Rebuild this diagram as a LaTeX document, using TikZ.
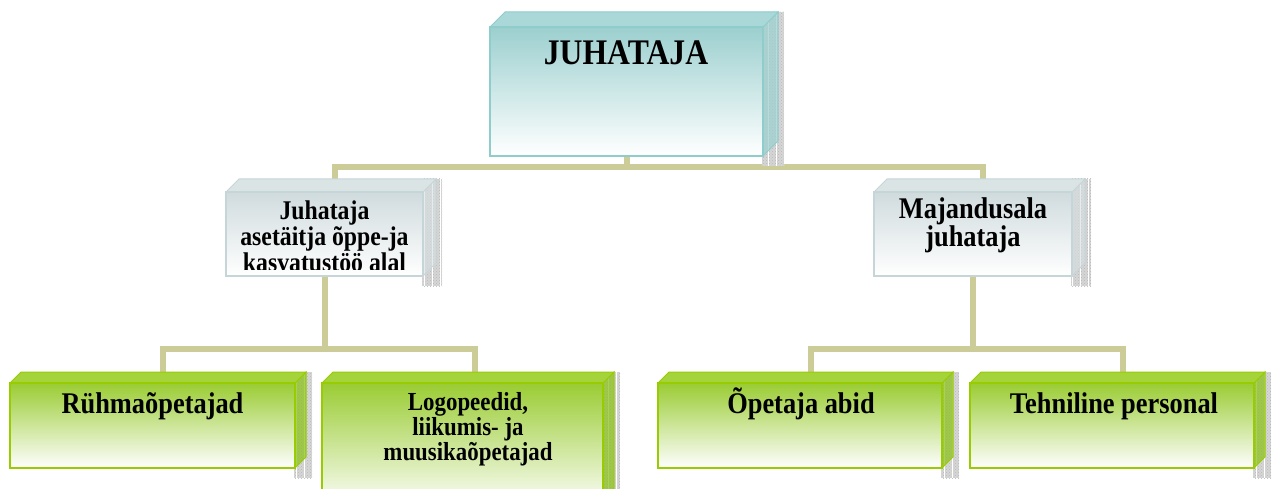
\documentclass[tikz,border=0pt]{standalone}
\usepackage{fontspec}
\setmainfont{Liberation Serif}[FakeStretch=0.88]
\usetikzlibrary{patterns,calc}
\pgfdeclarelayer{bglayer}
\pgfsetlayers{bglayer,main}
\definecolor{connc}{HTML}{CCCC99}
\definecolor{tealT}{HTML}{9CCFCF}
\definecolor{tealB}{HTML}{8FCCCC}
\definecolor{tealS}{HTML}{9FD0D0}
\definecolor{tealF}{HTML}{AAD8D8}
\definecolor{grayT}{HTML}{D0DBDE}
\definecolor{grayB}{HTML}{C6D5D8}
\definecolor{grayS}{HTML}{D6DFE1}
\definecolor{grayF}{HTML}{DBE4E5}
\definecolor{grnT}{HTML}{9ACC33}
\definecolor{grnB}{HTML}{99CC00}
\definecolor{grnS}{HTML}{8CC21E}
\definecolor{grnF}{HTML}{A4D33C}
\tikzset{
  conn/.style={draw=connc,line width=6pt},
  hatchbase/.style={fill=black!16},
  hatchgrid/.style={draw=white,line width=0.8pt},
  tl front/.style={draw=tealB,line width=1.5pt,top color=tealT,middle color=tealT!35!white,bottom color=white,inner sep=0pt,outer sep=0pt},
  tl top/.style={fill=tealF,draw=tealB,line width=1pt},
  tl side/.style={fill=tealS,fill opacity=0.75,draw=tealB,line width=1pt},
  gy front/.style={draw=grayB,line width=1.5pt,top color=grayT,middle color=grayT!40!white,bottom color=white,inner sep=0pt,outer sep=0pt},
  gy top/.style={fill=grayF,draw=grayB,line width=1pt},
  gy side/.style={fill=grayS,fill opacity=0.6,draw=grayB,line width=1pt},
  gn front/.style={draw=grnB,line width=2pt,top color=grnT,middle color=grnT!40!white,bottom color=white,inner sep=0pt,outer sep=0pt},
  gn top/.style={fill=grnF,draw=grnB,line width=1pt},
  gn side/.style={fill=grnS,fill opacity=0.75,draw=grnB,line width=1pt},
  lbl/.style={inner sep=0pt,align=center,anchor=base,font=\bfseries},
}
% #1 name, #2 x1, #3 y1, #4 x2, #5 y2, #6 depth, #7 kind
\newcommand\orgcube[7]{%
  \fill[hatchbase] (#4-1,#3-#6) rectangle (#4+#6+6,#5+10);
  \fill[pattern=crosshatch dots,pattern color=black!28] (#4-1,#3-#6) rectangle (#4+#6+6,#5+10);
  \begin{scope}
    \clip (#4-1,#3-#6) rectangle (#4+#6+6,#5+10);
    \draw[hatchgrid,step=8] (#4-1,#3-#6) grid (#4+#6+6,#5+10);
  \end{scope}
  \filldraw[#7 side] (#4,#3) -- (#4+#6,#3-#6) -- (#4+#6,#5-#6) -- (#4,#5) -- cycle;
  \filldraw[#7 top] (#2,#3) -- (#2+#6,#3-#6) -- (#4+#6,#3-#6) -- (#4,#3) -- cycle;
  \node[#7 front,anchor=north west,minimum width=#4-#2,minimum height=#5-#3] (#1) at (#2,#3) {};
}
\begin{document}
\begin{tikzpicture}[x=1pt,y=-1pt]
\useasboundingbox (0,0) rectangle (1277,489);
\clip (0,0) rectangle (1277,489);
% boxes
\orgcube{top}{490}{27}{763}{156}{15}{tl}
\orgcube{ml}{226}{192}{423}{276}{13}{gy}
\orgcube{mr}{874}{192}{1072}{276}{13}{gy}
\orgcube{bA}{10}{383}{295}{468}{11}{gn}
\orgcube{bB}{322}{383}{603}{510}{11}{gn}
\orgcube{bC}{658}{383}{942}{468}{11}{gn}
\orgcube{bD}{970}{383}{1254}{468}{11}{gn}
% labels (anchor=base of a multi-line node is its last baseline)
\node[lbl,font=\bfseries\fontsize{36}{36}\selectfont] (topT) at (626,65) {JUHATAJA};
\begin{scope}
\clip (227,193) rectangle (422,269.5);
\node[lbl,font=\bfseries\fontsize{27}{22}\selectfont] (mlT) at (324.5,271) {Juhataja\\asetäitja õppe-ja\\kasvatustöö alal};
\end{scope}
\node[lbl,font=\bfseries\fontsize{30}{22}\selectfont] (mrT) at (973,247) {Majandusala\\juhataja};
\node[lbl,font=\bfseries\fontsize{30}{30}\selectfont] (bAT) at (152.5,413) {Rühmaõpetajad};
\node[lbl,font=\bfseries\fontsize{26}{22.5}\selectfont] (bBT) at (468,460) {Logopeedid,\\liikumis- ja\\muusikaõpetajad};
\node[lbl,font=\bfseries\fontsize{30}{30}\selectfont] (bCT) at (801,413) {Õpetaja abid};
\node[lbl,font=\bfseries\fontsize{30}{30}\selectfont] (bDT) at (1114,413) {Tehniline personal};
% connectors (drawn behind the boxes)
\begin{pgfonlayer}{bglayer}
\draw[conn] (top.south) -- ($(top.south)+(0,11)$) -| ($(ml.north)+(10.5,0)$);
\draw[conn] (top.south) -- ($(top.south)+(0,11)$) -| ($(mr.north)+(10,0)$);
\draw[conn] (ml.south) -- ($(ml.south)+(0,73)$) -| ($(bA.north)+(10.5,0)$);
\draw[conn] (ml.south) -- ($(ml.south)+(0,73)$) -| ($(bB.north)+(12.5,0)$);
\draw[conn] (mr.south) -- ($(mr.south)+(0,73)$) -| ($(bC.north)+(11,0)$);
\draw[conn] (mr.south) -- ($(mr.south)+(0,73)$) -| ($(bD.north)+(11,0)$);
\end{pgfonlayer}
\end{tikzpicture}
\end{document}
